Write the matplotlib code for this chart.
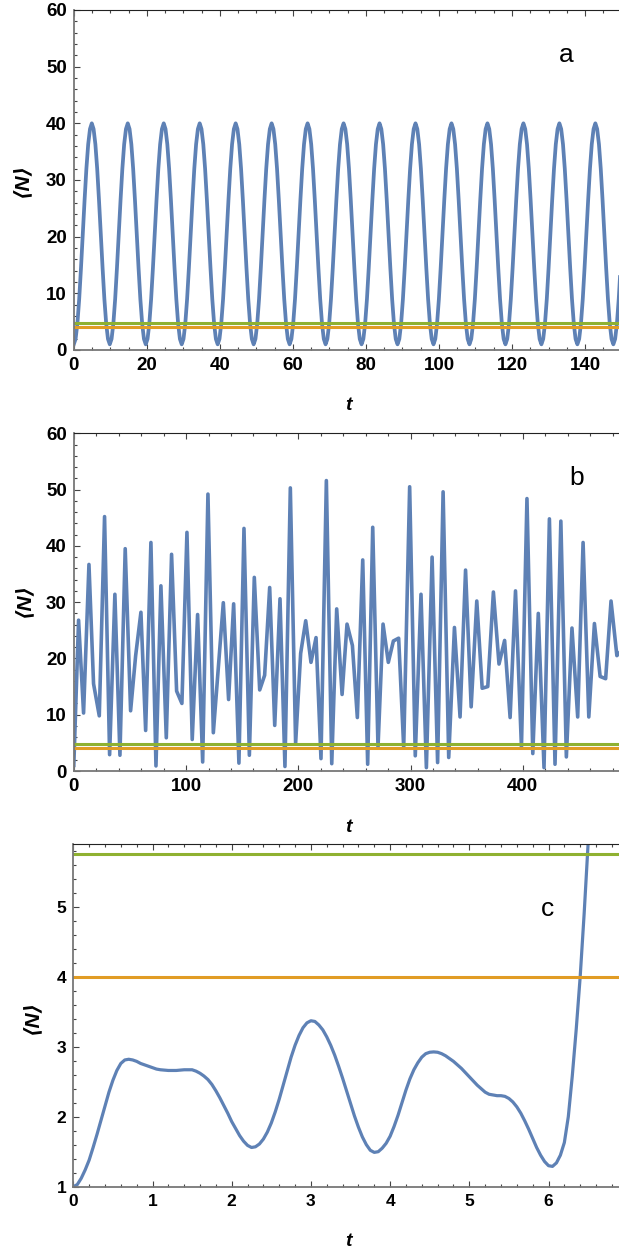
import numpy as np
import matplotlib
matplotlib.use('Agg')
import matplotlib.pyplot as plt
from matplotlib.ticker import MultipleLocator

plt.rcParams['font.family'] = ['Liberation Sans', 'DejaVu Sans']

W, H = 619, 1254
blue = '#5E81B5'
orange = '#E19C24'
green = '#8FB131'

# panel a : <N> read every 0.4925 in t (20 readings per swing)
dt_a = 0.4925
N_a = [
    1.0, 1.95, 4.7, 9.0, 14.5, 20.5, 26.5, 32.0, 36.3, 39.0, 40.0, 39.0, 36.3, 32.0, 26.5, 20.5, 14.5, 9.0, 4.7, 1.95,
    1.0, 1.95, 4.7, 9.0, 14.5, 20.5, 26.5, 32.0, 36.3, 39.0, 40.0, 39.0, 36.3, 32.0, 26.5, 20.5, 14.5, 9.0, 4.7, 1.95,
    1.0, 1.95, 4.7, 9.0, 14.5, 20.5, 26.5, 32.0, 36.3, 39.0, 40.0, 39.0, 36.3, 32.0, 26.5, 20.5, 14.5, 9.0, 4.7, 1.95,
    1.0, 1.95, 4.7, 9.0, 14.5, 20.5, 26.5, 32.0, 36.3, 39.0, 40.0, 39.0, 36.3, 32.0, 26.5, 20.5, 14.5, 9.0, 4.7, 1.95,
    1.0, 1.95, 4.7, 9.0, 14.5, 20.5, 26.5, 32.0, 36.3, 39.0, 40.0, 39.0, 36.3, 32.0, 26.5, 20.5, 14.5, 9.0, 4.7, 1.95,
    1.0, 1.95, 4.7, 9.0, 14.5, 20.5, 26.5, 32.0, 36.3, 39.0, 40.0, 39.0, 36.3, 32.0, 26.5, 20.5, 14.5, 9.0, 4.7, 1.95,
    1.0, 1.95, 4.7, 9.0, 14.5, 20.5, 26.5, 32.0, 36.3, 39.0, 40.0, 39.0, 36.3, 32.0, 26.5, 20.5, 14.5, 9.0, 4.7, 1.95,
    1.0, 1.95, 4.7, 9.0, 14.5, 20.5, 26.5, 32.0, 36.3, 39.0, 40.0, 39.0, 36.3, 32.0, 26.5, 20.5, 14.5, 9.0, 4.7, 1.95,
    1.0, 1.95, 4.7, 9.0, 14.5, 20.5, 26.5, 32.0, 36.3, 39.0, 40.0, 39.0, 36.3, 32.0, 26.5, 20.5, 14.5, 9.0, 4.7, 1.95,
    1.0, 1.95, 4.7, 9.0, 14.5, 20.5, 26.5, 32.0, 36.3, 39.0, 40.0, 39.0, 36.3, 32.0, 26.5, 20.5, 14.5, 9.0, 4.7, 1.95,
    1.0, 1.95, 4.7, 9.0, 14.5, 20.5, 26.5, 32.0, 36.3, 39.0, 40.0, 39.0, 36.3, 32.0, 26.5, 20.5, 14.5, 9.0, 4.7, 1.95,
    1.0, 1.95, 4.7, 9.0, 14.5, 20.5, 26.5, 32.0, 36.3, 39.0, 40.0, 39.0, 36.3, 32.0, 26.5, 20.5, 14.5, 9.0, 4.7, 1.95,
    1.0, 1.95, 4.7, 9.0, 14.5, 20.5, 26.5, 32.0, 36.3, 39.0, 40.0, 39.0, 36.3, 32.0, 26.5, 20.5, 14.5, 9.0, 4.7, 1.95,
    1.0, 1.95, 4.7, 9.0, 14.5, 20.5, 26.5, 32.0, 36.3, 39.0, 40.0, 39.0, 36.3, 32.0, 26.5, 20.5, 14.5, 9.0, 4.7, 1.95,
    1.0, 1.95, 4.7, 9.0, 14.5, 20.5, 26.5, 32.0, 36.3, 39.0, 40.0, 39.0, 36.3, 32.0, 26.5, 20.5, 14.5, 9.0, 4.7, 1.95,
    1.0, 1.95, 4.7, 9.0, 14.5,
]
t_a = np.arange(len(N_a)) * dt_a
levels_a = [4.8, 4.0]

# panel b
t_b = [0, 4.25, 8.7, 13.5, 17.6, 22.7, 27.4, 31.9, 36.6, 41.1, 45.8, 50.6, 55.1, 59.8, 64.0, 68.7, 73.2,
       77.6, 82.4, 87.1, 91.6, 96.3, 100.8, 105.5, 110.3, 114.8, 119.5,
       124.3, 133.2, 137.9, 142.4, 147.1, 151.6, 156.4, 160.8, 165.6, 170.0, 174.5, 179.0, 183.7, 188.1,
       192.9, 197.6, 202.1, 206.6, 211.3, 215.8, 220.2, 225.0, 229.8, 234.2, 239.0, 243.4, 248.2, 252.6,
       257.4, 261.8, 266.3, 271.0, 275.5, 280.2, 284.7, 289.4, 293.9, 299.2,
       304.2, 309.3, 314.1, 319.2, 324.1, 329.0, 334.0, 339.1, 344.1, 349.0, 354.0, 359.0, 363.8, 368.8,
       373.8, 378.8, 383.8, 388.7, 393.5, 398.8, 403.7, 408.9, 413.8, 418.9, 423.7, 428.7, 433.9, 438.8,
       443.8, 448.9, 453.7, 458.8, 463.8, 468.9, 473.8, 478.6, 483.8, 488.8]
N_b = [1.0, 26.8, 10.3, 36.7, 15.5, 9.8, 45.2, 2.9, 31.4, 2.8, 39.5, 10.7, 20.5, 28.2, 7.2, 40.6, 0.9,
       32.9, 5.9, 38.5, 14.2, 12.0, 42.4, 5.6, 27.8, 1.6, 49.2,
       6.8, 29.9, 12.7, 29.7, 1.4, 43.1, 2.8, 34.4, 14.4, 17.0, 32.6, 8.1, 30.6, 0.8,
       50.3, 4.9, 20.9, 26.7, 19.3, 23.7, 2.2, 51.6, 1.3, 28.8, 13.6, 26.1, 22.3, 9.5,
       37.5, 1.2, 43.3, 4.2, 26.1, 19.3, 23.1, 23.6, 4.2, 50.5,
       2.7, 31.4, 0.6, 38.0, 1.5, 49.6, 2.4, 25.5, 9.6, 35.7, 11.4, 30.2, 14.7, 15.0,
       31.8, 19.0, 23.2, 9.5, 32.0, 4.2, 48.4, 3.1, 28.0, 0.6, 44.8, 1.2, 44.4, 2.5,
       25.4, 9.6, 40.6, 9.6, 26.2, 16.8, 16.4, 30.2, 20.5, 21.6]
levels_b = [4.8, 4.0]

# panel c : <N> read every 0.05 in t
dt_c = 0.05
N_c = [1.00, 1.03, 1.12, 1.24, 1.38, 1.56, 1.75, 1.95, 2.15, 2.35,
       2.52, 2.66, 2.76, 2.81, 2.82, 2.81, 2.79, 2.76, 2.74, 2.72,
       2.70, 2.68, 2.67, 2.665, 2.66, 2.66, 2.66, 2.665, 2.67, 2.67,
       2.67, 2.65, 2.62, 2.58, 2.53, 2.46, 2.37, 2.27, 2.16, 2.05,
       1.93, 1.83, 1.73, 1.65, 1.59, 1.56, 1.57, 1.61, 1.68, 1.78,
       1.91, 2.07, 2.25, 2.45, 2.65, 2.85, 3.02, 3.16, 3.27, 3.34,
       3.37, 3.36, 3.31, 3.24, 3.14, 3.02, 2.88, 2.72, 2.55, 2.37,
       2.19, 2.01, 1.85, 1.71, 1.60, 1.52, 1.49, 1.50, 1.55, 1.62,
       1.72, 1.86, 2.02, 2.20, 2.38, 2.54, 2.67, 2.77, 2.85, 2.90,
       2.92, 2.925, 2.92, 2.90, 2.87, 2.83, 2.79, 2.74, 2.69, 2.63,
       2.57, 2.51, 2.45, 2.40, 2.35, 2.32, 2.31, 2.30, 2.30, 2.29,
       2.26, 2.21, 2.14, 2.05, 1.94, 1.82, 1.69, 1.56, 1.45, 1.36,
       1.30, 1.29, 1.34, 1.45, 1.63, 2.00, 2.58, 3.25, 4.00, 4.90,
       5.90, 7.00]
t_c = np.arange(len(N_c)) * dt_c
levels_c = [5.75, 4.0]


def px_axes(left, top, bottom):
    return [left / W, 1 - bottom / H, 1 - left / W, (bottom - top) / H]


def style(ax, xmaj, xmin, ymaj, ymin, fs):
    ax.xaxis.set_major_locator(MultipleLocator(xmaj))
    ax.xaxis.set_minor_locator(MultipleLocator(xmin))
    ax.yaxis.set_major_locator(MultipleLocator(ymaj))
    ax.yaxis.set_minor_locator(MultipleLocator(ymin))
    ax.tick_params(which='both', direction='in', top=True, right=False,
                   color='#444444', width=0.8, labelsize=fs, pad=5)
    ax.tick_params(which='major', length=4.5)
    ax.tick_params(which='minor', length=2.3)
    ax.spines['right'].set_visible(False)
    ax.spines['top'].set_color('#222222')
    ax.spines['top'].set_linewidth(0.8)
    for s in ['left', 'bottom']:
        ax.spines[s].set_color('#777777')
        ax.spines[s].set_linewidth(1.3)
    for lab in ax.get_xticklabels() + ax.get_yticklabels():
        lab.set_fontweight('bold')


def ftext(x, y, s, **kw):
    fig.text(x / W, 1 - y / H, s, ha='center', va='center', **kw)


fig = plt.figure(figsize=(W / 100, H / 100), dpi=100)

# a
ax = fig.add_axes(px_axes(73.8, 10, 350))
ax.plot(t_a, N_a, color=blue, lw=2.7)
ax.axhline(levels_a[0], color=green, lw=2.2)
ax.axhline(levels_a[1], color=orange, lw=2.2)
ax.set_xlim(0, 149.3)
ax.set_ylim(0, 60)
style(ax, 20, 5, 10, 2, 13.5)
ftext(566, 55, 'a', fontsize=19)
ftext(23, 180, '⟨N⟩', fontsize=15, fontweight='bold', fontstyle='italic', rotation=90)
ftext(348, 405, 't', fontsize=14, fontweight='bold', fontstyle='italic')

# b
ax = fig.add_axes(px_axes(73.8, 433.3, 771))
ax.plot(t_b, N_b, color=blue, lw=2.6)
ax.axhline(levels_b[0], color=green, lw=2.2)
ax.axhline(levels_b[1], color=orange, lw=2.2)
ax.set_xlim(0, 485.7)
ax.set_ylim(0, 60)
style(ax, 100, 20, 10, 2, 13.5)
ftext(577, 478, 'b', fontsize=19)
ftext(25, 600, '⟨N⟩', fontsize=15, fontweight='bold', fontstyle='italic', rotation=90)
ftext(348, 827, 't', fontsize=14, fontweight='bold', fontstyle='italic')

# c
ax = fig.add_axes(px_axes(73.3, 844.3, 1186.7))
ax.plot(t_c, N_c, color=blue, lw=2.3)
ax.axhline(levels_c[0], color=green, lw=2.2)
ax.axhline(levels_c[1], color=orange, lw=2.2)
ax.set_xlim(0, 6.89)
ax.set_ylim(1, 5.89)
style(ax, 1, 0.2, 1, 0.2, 12.5)
ftext(548, 909, 'c', fontsize=19)
ftext(33, 1017, '⟨N⟩', fontsize=15, fontweight='bold', fontstyle='italic', rotation=90)
ftext(348, 1242, 't', fontsize=14, fontweight='bold', fontstyle='italic')

fig.savefig('out.png', dpi=100)
